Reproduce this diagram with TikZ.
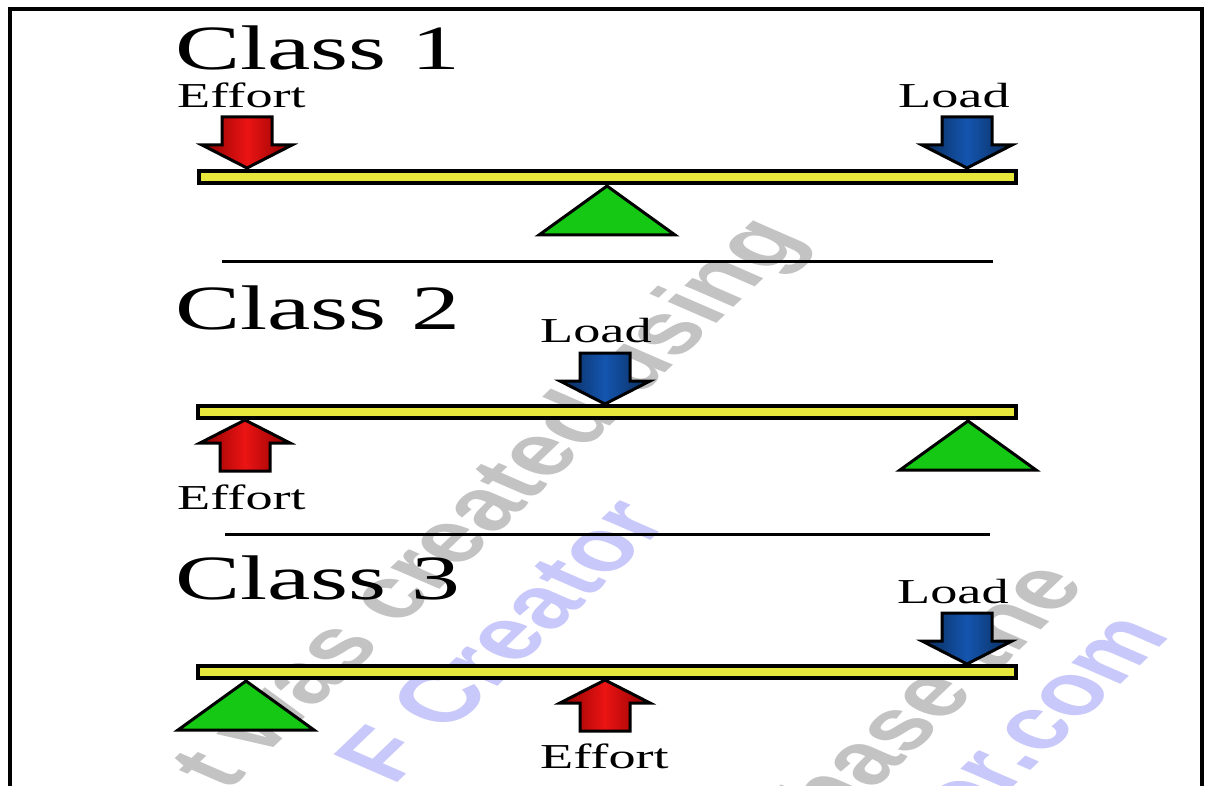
\documentclass[tikz,border=0pt]{standalone}
\usepackage{fontspec}
\setmainfont{Liberation Serif}
\newfontfamily\widefont[FakeStretch=1.55]{Liberation Serif}
\newfontfamily\wmfont{Liberation Sans}
\definecolor{beamyellow}{RGB}{232,232,60}
\definecolor{effortred}{RGB}{235,20,20}
\definecolor{loadblue}{RGB}{20,85,175}
\definecolor{pivotgreen}{RGB}{20,200,20}
\definecolor{wmgray}{RGB}{195,195,195}
\definecolor{wmblue}{RGB}{200,200,250}
\tikzset{
  frameline/.style={line width=3.5pt},
  beam/.style={draw=black, line width=4pt, fill=beamyellow},
  pivot/.style={draw=black, line width=3pt, fill=pivotgreen, line join=miter},
  effortarrow/.style={draw=black, line width=3pt, line join=miter,
     left color=red!55!black, right color=red!55!black, middle color=effortred},
  loadarrow/.style={draw=black, line width=3pt, line join=miter,
     left color=loadblue!50!black, right color=loadblue!50!black, middle color=loadblue},
  separator/.style={line width=3pt},
  title/.style={font=\widefont\fontsize{63}{63}\selectfont, anchor=base west, inner sep=0pt},
  lab/.style={font=\widefont\fontsize{35}{35}\selectfont, anchor=base west, inner sep=0pt},
  wm/.style={font=\wmfont\bfseries\fontsize{72}{72}\selectfont, transform shape, rotate=56, inner sep=0pt},
  blockarrow/.pic={\path[pic actions] (-25,-51) -- (-25,-23) -- (-45,-23) -- (0,0) -- (45,-23) -- (25,-23) -- (25,-51) -- cycle;}
}
\begin{document}
\begin{tikzpicture}[x=1pt,y=-1pt]
\useasboundingbox (0,0) rectangle (1206,786);
\clip (0,0) rectangle (1206,786);
\fill[white] (0,0) rectangle (1206,786);
% watermark
\begin{scope}[xscale=1.55]
  \node[wm, text=wmgray] (wm1) at (318,505) {t was created using};
  \node[wm, text=wmblue] (wm2) at (322.6,640) {F Creator};
  \node[wm, text=wmgray] (wm3) at (588,708) {chase the};
  \node[wm, text=wmblue] (wm4) at (664.5,730) {tor.com};
\end{scope}
% frame
\draw[frameline] (10,9) rectangle (1202,820);
% Class 1
\node[title] (c1) at (175,70) {Class 1};
\node[lab] (e1) at (177,108) {Effort};
\node[lab] (l1) at (898,108) {Load};
\draw[beam] (199,171) rectangle (1016,183);
\pic[effortarrow] at (247,168) {blockarrow};
\pic[loadarrow] at (967,168) {blockarrow};
\draw[pivot] (607,186) -- (675,235) -- (539,235) -- cycle;
\draw[separator] (222,261) -- (993,261);
% Class 2
\node[title] (c2) at (175,329) {Class 2};
\node[lab] (l2) at (540,342) {Load};
\node[lab] (e2) at (177,509) {Effort};
\draw[beam] (198,406) rectangle (1016,418);
\pic[loadarrow] at (605,404) {blockarrow};
\pic[effortarrow, yscale=-1] at (245,420) {blockarrow};
\draw[pivot] (968,421) -- (1036,470) -- (900,470) -- cycle;
\draw[separator] (225,534) -- (990,534);
% Class 3
\node[title] (c3) at (175,599) {Class 3};
\node[lab] (l3) at (897,603) {Load};
\node[lab] (e3) at (540,768) {Effort};
\draw[beam] (198,666) rectangle (1016,678);
\pic[loadarrow] at (967,664) {blockarrow};
\pic[effortarrow, yscale=-1] at (605,680) {blockarrow};
\draw[pivot] (246,681) -- (314,730) -- (178,730) -- cycle;
\end{tikzpicture}
\end{document}
